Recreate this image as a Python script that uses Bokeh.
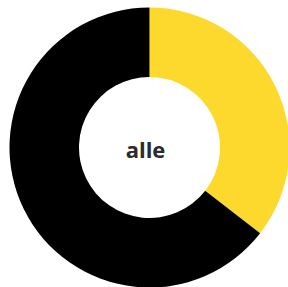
import math
from bokeh.plotting import figure
from bokeh.models import Range1d, ColumnDataSource
from bokeh.core.properties import value
from bokeh.embed import file_html
from bokeh.resources import INLINE

labels = ["ja", "nein"]
values = [35.5, 64.5]
colors = ["#FCD92C", "#000000"]
center_label = "alle"

total = sum(values)
starts, ends = [], []
a = math.pi / 2
for v in values:
    starts.append(a)
    a -= 2 * math.pi * v / total
    ends.append(a)

src = ColumnDataSource(dict(label=labels, value=values, color=colors, start=starts, end=ends))

p = figure(width=288, height=287, output_backend="svg", toolbar_location=None,
           x_range=Range1d(-149, 139), y_range=Range1d(-140, 147),
           min_border=0, outline_line_color=None)
p.axis.visible = False
p.grid.visible = False
p.background_fill_color = "white"
p.border_fill_color = "white"

p.annular_wedge(x=0, y=0, inner_radius=70.5, outer_radius=140,
                start_angle="start", end_angle="end", direction="clock",
                fill_color="color", line_color=None, source=src)

p.text(x=[-4], y=[-1.5], text=[center_label], text_align="center", text_baseline="middle",
       text_font=value("Open Sans"), text_font_style="bold", text_font_size="22px",
       text_color="#2b2b2b")

open("out.html", "w").write(file_html(p, INLINE))
